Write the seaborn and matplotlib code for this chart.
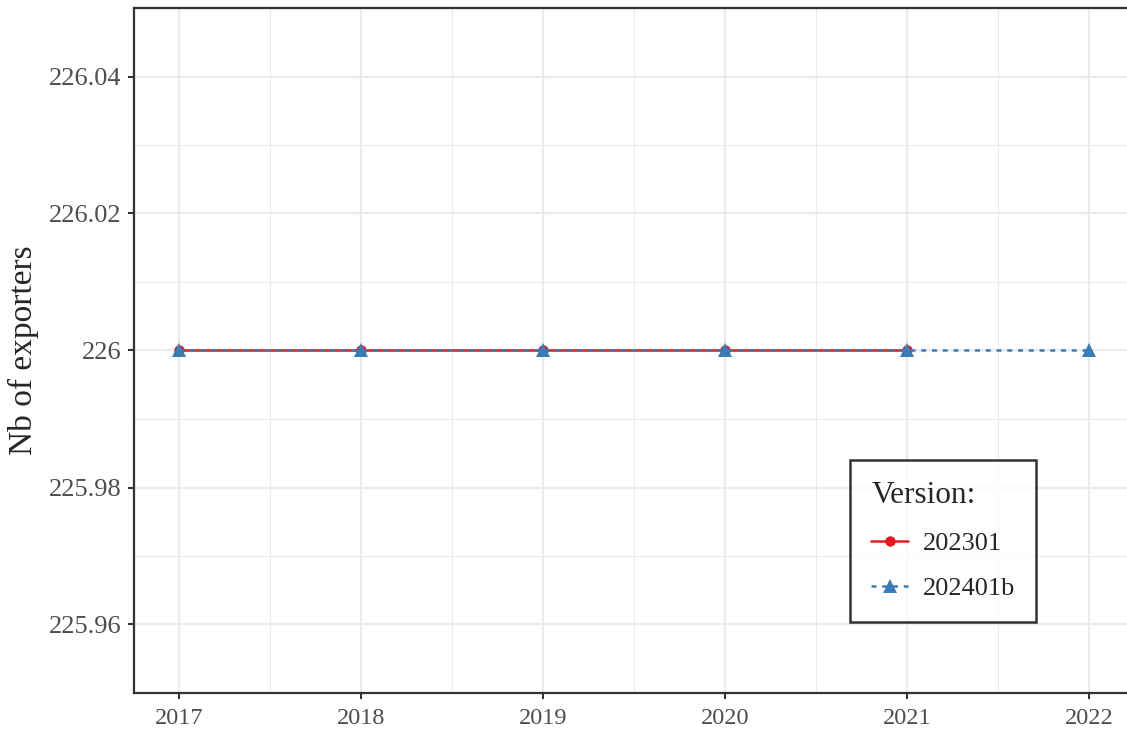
import numpy as np
import pandas as pd
import matplotlib.pyplot as plt
import seaborn as sns

# data
years_202301 = [2017, 2018, 2019, 2020, 2021]
values_202301 = [226, 226, 226, 226, 226]
years_202401b = [2017, 2018, 2019, 2020, 2021, 2022]
values_202401b = [226, 226, 226, 226, 226, 226]
versions = ["202301", "202401b"]
colors = {"202301": "#E41A1C", "202401b": "#377EB8"}

df = pd.concat([
    pd.DataFrame({"year": years_202301, "value": values_202301, "version": "202301"}),
    pd.DataFrame({"year": years_202401b, "value": values_202401b, "version": "202401b"}),
])

sns.set_style("white")
plt.rcParams['font.family'] = ['Liberation Serif', 'DejaVu Serif']

fig = plt.figure(figsize=(11.27, 7.34), dpi=100)
ax = fig.add_axes([134 / 1127, 1 - 693 / 734, 1000.5 / 1127, 685 / 734])

sns.lineplot(data=df, x="year", y="value", hue="version", style="version",
             hue_order=versions, style_order=versions, palette=colors,
             markers=["o", "^"], dashes=["", (2.0, 2.3)], markersize=9,
             markeredgewidth=0, linewidth=1.8, ax=ax, legend=True)

# triangle looks smaller than the circle at the same size
ax.lines[0].set_markersize(7.5)
ax.lines[1].set_markersize(9.5)

ax.set_xlim(2016.75, 2022.25)
ax.set_ylim(225.95, 226.05)
ax.set_xticks([2017, 2018, 2019, 2020, 2021, 2022])
ax.set_xticks([2017.5, 2018.5, 2019.5, 2020.5, 2021.5], minor=True)
ax.set_yticks([225.96, 225.98, 226.0, 226.02, 226.04])
ax.set_yticklabels(["225.96", "225.98", "226", "226.02", "226.04"])
ax.set_yticks([225.95, 225.97, 225.99, 226.01, 226.03, 226.05], minor=True)

ax.grid(which="major", color="#EBEBEB", linewidth=1.6)
ax.grid(which="minor", color="#EBEBEB", linewidth=0.8)
ax.set_axisbelow(True)

ax.tick_params(axis="both", which="major", labelcolor="#4D4D4D",
               length=4, width=1.5, color="#333333", direction="out",
               bottom=True, left=True)
ax.tick_params(axis="x", which="major", labelsize=17.5, pad=7)
ax.tick_params(axis="y", which="major", labelsize=19, pad=5)
ax.tick_params(which="minor", length=0)
for s in ax.spines.values():
    s.set_color("#333333")
    s.set_linewidth(1.6)

ax.set_xlabel("")
ax.set_ylabel("Nb of exporters", fontsize=24, labelpad=7)

handles, labels = ax.get_legend_handles_labels()
leg = ax.legend(handles, labels, title="Version:", loc="upper left",
                bbox_to_anchor=(0.7157, 0.340), fontsize=19, title_fontsize=22.5,
                frameon=True, fancybox=False, edgecolor="black",
                borderpad=0.8, labelspacing=0.82, handlelength=1.4,
                handletextpad=0.55, borderaxespad=0)
leg.get_frame().set_linewidth(1.8)
leg._legend_box.align = "left"
leg.get_lines()[0].set_markersize(7.5)
leg.get_lines()[1].set_markersize(9.5)

fig.savefig("out.png", dpi=100)
